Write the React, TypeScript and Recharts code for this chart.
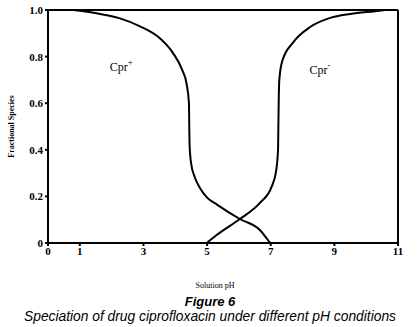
import React from "react";
import {
  LineChart,
  Line,
  XAxis,
  YAxis,
  ReferenceLine,
  ReferenceDot,
  Label,
} from "recharts";

// Cpr+ (cationic form)
const cationPh = [0.8, 1.64, 2.26, 2.89, 3.52, 3.93, 4.21, 4.36, 4.43, 4.44, 4.45, 4.5, 4.62, 4.78, 5.0, 5.31, 6.03, 6.66, 6.91, 6.98];
const cationFrac = [1.0, 0.983, 0.964, 0.93, 0.878, 0.815, 0.745, 0.68, 0.6, 0.5, 0.42, 0.34, 0.28, 0.235, 0.195, 0.165, 0.103, 0.056, 0.013, 0.0];

// Cpr- (anionic form)
const anionPh = [4.99, 5.3, 6.03, 6.66, 7.03, 7.17, 7.23, 7.24, 7.25, 7.27, 7.36, 7.7, 8.24, 8.87, 9.5, 10.28, 10.6];
const anionFrac = [0.0, 0.034, 0.103, 0.172, 0.242, 0.31, 0.4, 0.5, 0.6, 0.7, 0.78, 0.86, 0.927, 0.966, 0.983, 0.995, 1.0];

const xTicks = [0, 1, 3, 5, 7, 9, 11];
const yTicks = [0, 0.2, 0.4, 0.6, 0.8, 1.0];

const cationData = cationPh.map((ph, i) => ({ ph, frac: cationFrac[i] }));
const anionData = anionPh.map((ph, i) => ({ ph, frac: anionFrac[i] }));

const tickStyle = {
  fill: "#000",
  fontSize: 11,
  fontWeight: 700,
  fontFamily: "Liberation Serif, serif",
};

const speciesLabel = (name: string, charge: string) => (props: any) => {
  const { viewBox } = props;
  const cx = viewBox.x + (viewBox.width || 0) / 2;
  const cy = viewBox.y + (viewBox.height || 0) / 2;
  return (
    <text
      x={cx}
      y={cy}
      textAnchor="middle"
      dominantBaseline="central"
      fontFamily="Liberation Serif, serif"
      fontSize={12}
      fill="#000"
      style={{ fill: "#000", stroke: "none" }}
    >
      {name}
      <tspan dy={-5} fontSize={9}>
        {charge}
      </tspan>
    </text>
  );
};

export default function App() {
  return (
    <div
      style={{
        position: "absolute",
        left: 0,
        top: 0,
        width: 420,
        height: 327,
        background: "#fff",
      }}
    >
      <LineChart
        width={420}
        height={327}
        margin={{ top: 10, right: 22, bottom: 0, left: 0 }}
      >
        <XAxis
          type="number"
          dataKey="ph"
          domain={[0, 11]}
          ticks={xTicks}
          interval={0}
          stroke="#000"
          strokeWidth={2}
          tickSize={3}
          tickMargin={1}
          tick={tickStyle}
          height={84}
        >
          <Label
            value="Solution pH"
            position="insideTop"
            offset={39}
            dx={-8}
            style={{
              fill: "#000",
              fontSize: 8,
              fontFamily: "Liberation Serif, serif",
            }}
          />
        </XAxis>
        <YAxis
          type="number"
          dataKey="frac"
          domain={[0, 1]}
          ticks={yTicks}
          interval={0}
          stroke="#000"
          strokeWidth={2}
          tickSize={3}
          tickMargin={2}
          tick={tickStyle}
          tickFormatter={(v: number) => (v === 0 ? "0" : v.toFixed(1))}
          width={48}
        >
          <Label
            value="Fractional Species"
            angle={-90}
            position="insideLeft"
            offset={11}
            style={{
              fill: "#000",
              fontSize: 8,
              fontWeight: 700,
              fontFamily: "Liberation Serif, serif",
              textAnchor: "middle",
            }}
          />
        </YAxis>
        <ReferenceLine y={1} stroke="#000" strokeWidth={2} />
        <ReferenceLine x={11} stroke="#000" strokeWidth={2} />
        <Line
          data={cationData}
          dataKey="frac"
          type="monotone"
          stroke="#000"
          strokeWidth={2}
          dot={false}
          isAnimationActive={false}
        />
        <Line
          data={anionData}
          dataKey="frac"
          type="monotone"
          stroke="#000"
          strokeWidth={2}
          dot={false}
          isAnimationActive={false}
        />
        <ReferenceDot
          x={2.3}
          y={0.755}
          r={0}
          fill="none"
          stroke="none"
          label={speciesLabel("Cpr", "+")}
        />
        <ReferenceDot
          x={8.55}
          y={0.742}
          r={0}
          fill="none"
          stroke="none"
          label={speciesLabel("Cpr", "-")}
        />
      </LineChart>
      <div
        style={{
          position: "absolute",
          left: 0,
          top: 294,
          width: 420,
          textAlign: "center",
          fontFamily: "Liberation Sans, Arial, sans-serif",
          fontStyle: "italic",
          color: "#000",
        }}
      >
        <div style={{ fontWeight: 700, fontSize: 13, lineHeight: "15px" }}>
          Figure 6
        </div>
        <div style={{ fontSize: 13.8, lineHeight: "16px" }}>
          Speciation of drug ciprofloxacin under different pH conditions
        </div>
      </div>
    </div>
  );
}
